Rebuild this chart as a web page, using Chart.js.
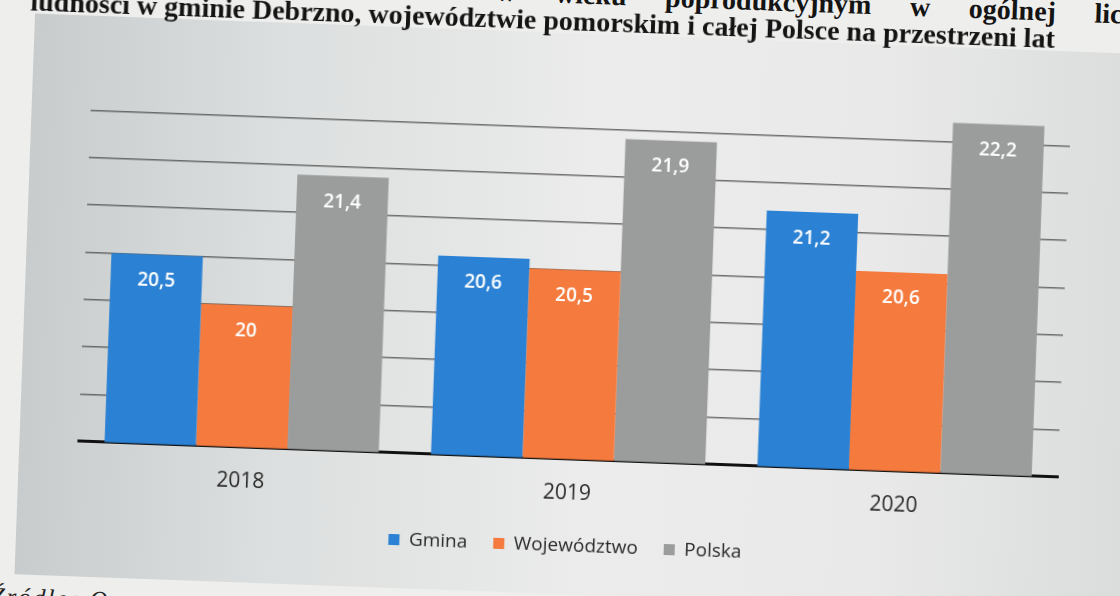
<!DOCTYPE html>
<html>
<head>
<meta charset="utf-8">
<script src="https://cdn.jsdelivr.net/npm/chart.js@4"></script>
<style>
  html, body { margin: 0; padding: 0; }
  body { width: 1120px; height: 596px; overflow: hidden; background: #eeeeec; position: relative; }
  #page { position: absolute; left: 0; top: 0; width: 1120px; height: 596px; transform: rotate(2.1deg); transform-origin: 560px 298px; }
  .cap { position: absolute; font-family: "Liberation Serif", serif; font-weight: bold; font-size: 28px; color: #141414; white-space: nowrap; }
  #cap1 { left: 20px; top: -22px; width: 1140px; text-align: justify; text-align-last: justify; }
  #cap2 { left: 20px; top: 5px; }
  #box { position: absolute; left: 25px; top: 33px; width: 1140px; height: 561px;
         background: linear-gradient(90deg, #c8cccd 0%, #dcdfdf 22%, #ebeceb 50%, #e8e9e8 75%, #d9dbdb 100%); }
  #src { position: absolute; left: 2px; top: 603px; font-family: "Liberation Serif", serif; font-style: italic; font-size: 25px; letter-spacing: 2px; color: #222; white-space: nowrap; }
</style>
</head>
<body>
<div id="page">
  <div id="cap1" class="cap">Wykres 5. Odsetek ludności w wieku poprodukcyjnym w ogólnej liczbie</div>
  <div id="box"><canvas id="chart" width="1095" height="561"></canvas></div>
  <div id="cap2" class="cap">ludności w gminie Debrzno, województwie pomorskim i całej Polsce na przestrzeni lat</div>
  <div id="src">Źródło: Opracowanie własne na podstawie danych GUS</div>
</div>
<script>
const years = ["2018", "2019", "2020"];
const gmina = [20.5, 20.6, 21.2];
const wojewodztwo = [20, 20.5, 20.6];
const polska = [21.4, 21.9, 22.2];

// white value labels just under the top of each bar
const barLabels = {
    id: "barLabels",
    afterDatasetsDraw(chart) {
        const ctx = chart.ctx;
        ctx.save();
        ctx.fillStyle = "#ffffff";
        ctx.font = "600 19px 'Open Sans'";
        ctx.textAlign = "center";
        ctx.textBaseline = "middle";
        chart.data.datasets.forEach((ds, i) => {
            chart.getDatasetMeta(i).data.forEach((bar, j) => {
                ctx.fillText(String(ds.data[j]).replace(".", ","), bar.x, bar.y + 26);
            });
        });
        ctx.restore();
    }
};

new Chart(document.getElementById("chart"), {
    type: "bar",
    data: {
        labels: years,
        datasets: [
            { label: "Gmina", data: gmina, backgroundColor: "#2b81d3" },
            { label: "Województwo", data: wojewodztwo, backgroundColor: "#f47a3d" },
            { label: "Polska", data: polska, backgroundColor: "#9b9c9c" }
        ]
    },
    options: {
        responsive: false,
        animation: false,
        layout: {
            padding: { top: 47, left: 59, right: 56, bottom: 29 }
        },
        datasets: {
            bar: { barPercentage: 1, categoryPercentage: 0.84 }
        },
        scales: {
            x: {
                grid: { display: false },
                border: { color: "#111111", width: 3 },
                ticks: { color: "#2a2a2a", font: { family: "'Open Sans'", size: 21 }, padding: 14 },
                afterFit: (s) => { s.height -= 10; }
            },
            y: {
                min: 18.5,
                max: 22.5,
                ticks: { display: false, stepSize: 0.5 },
                border: { display: false },
                grid: {
                    drawTicks: false,
                    lineWidth: 1.5,
                    color: (c) => (c.tick && c.tick.value > 22.01) ? "rgba(0,0,0,0)" : "rgba(70,70,70,0.75)"
                }
            }
        },
        plugins: {
            title: { display: false },
            tooltip: { enabled: false },
            legend: {
                position: "bottom",
                labels: {
                    color: "#2a2a2a",
                    font: { family: "'Open Sans'", size: 19 },
                    boxWidth: 11,
                    boxHeight: 11,
                    padding: 26
                }
            }
        }
    },
    plugins: [barLabels]
});
</script>
</body>
</html>
